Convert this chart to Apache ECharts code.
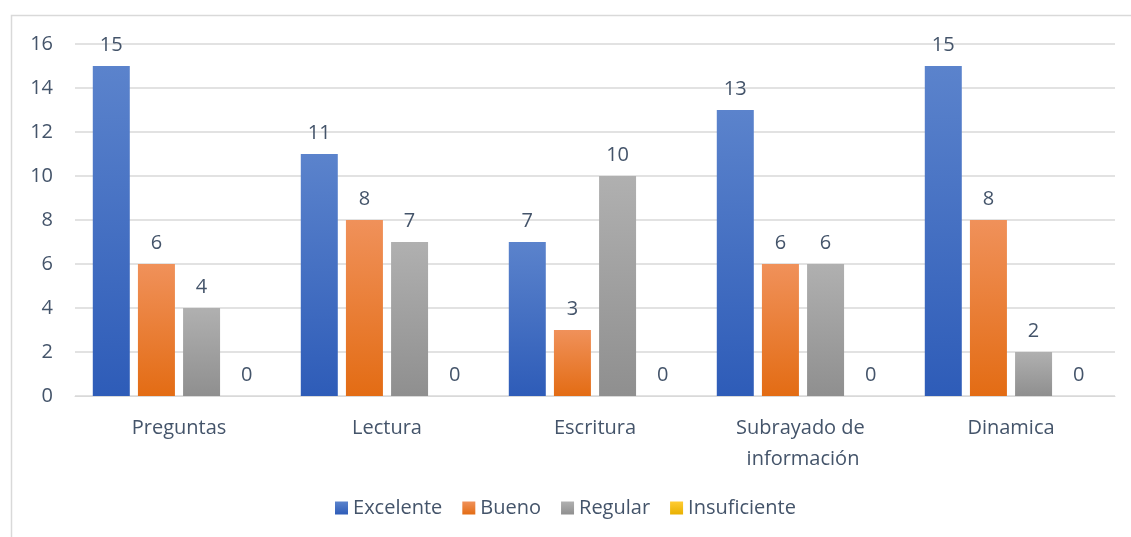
<!DOCTYPE html>
<html>
<head>
<meta charset="utf-8">
<script src="https://cdn.jsdelivr.net/npm/echarts@6/dist/echarts.min.js"></script>
<style>
  html, body { margin: 0; padding: 0; background: #fff; }
  #main { width: 1131px; height: 537px; }
</style>
</head>
<body>
<div id="main"></div>
<script>
const categories = ["Preguntas", "Lectura", "Escritura", "Subrayado de información", "Dinamica"];
const excelente = [15, 11, 7, 13, 15];
const bueno = [6, 8, 3, 6, 8];
const regular = [4, 7, 10, 6, 2];
const insuficiente = [0, 0, 0, 0, 0];
const yTicks = [0, 2, 4, 6, 8, 10, 12, 14, 16];

const textColor = "#44546a";
const font = "'Open Sans', sans-serif";
const fs = 20;

function grad(top, bottom) {
  return new echarts.graphic.LinearGradient(0, 0, 0, 1, [
    { offset: 0, color: top },
    { offset: 1, color: bottom },
  ]);
}

function makeSeries(name, data, top, bottom) {
  return {
    name: name,
    type: "bar",
    data: data,
    barWidth: 37,
    barGap: "22%",
    itemStyle: { color: grad(top, bottom) },
    label: {
      show: true,
      position: "top",
      distance: 11,
      color: textColor,
      fontSize: fs,
      fontFamily: font,
    },
  };
}

let myEchart = echarts.init(document.getElementById("main"));
let option = {
  animation: false,
  graphic: [
    {
      type: "rect",
      shape: { x: 11.5, y: 15.5, width: 1130, height: 530 },
      style: { fill: "none", stroke: "#d9d9d9", lineWidth: 1.5 },
    },
  ],
  grid: {
    left: 75,
    right: 16,
    top: 44,
    bottom: 141,
  },
  legend: {
    bottom: 14,
    left: "center",
    itemWidth: 13,
    itemHeight: 13,
    itemGap: 20,
    icon: "rect",
    textStyle: { color: textColor, fontSize: fs, fontFamily: font },
    data: [
      { name: "Excelente", itemStyle: { color: grad("#5b83cc", "#2e5cb8") } },
      { name: "Bueno", itemStyle: { color: grad("#f0915a", "#e36c14") } },
      { name: "Regular", itemStyle: { color: grad("#b0b0b0", "#8f8f8f") } },
      { name: "Insuficiente", itemStyle: { color: grad("#ffcc33", "#e8b000") } },
    ],
  },
  xAxis: {
    type: "category",
    data: categories,
    axisLine: { lineStyle: { color: "#d9d9d9" } },
    axisTick: { show: false },
    axisLabel: {
      interval: 0,
      color: textColor,
      fontSize: fs,
      fontFamily: font,
      margin: 17,
      width: 170,
      overflow: "break",
      lineHeight: 31,
    },
  },
  yAxis: {
    type: "value",
    min: yTicks[0],
    max: yTicks[yTicks.length - 1],
    interval: 2,
    axisLine: { show: false },
    axisTick: { show: false },
    splitLine: { lineStyle: { color: "#d9d9d9", width: 1.5 } },
    axisLabel: {
      color: textColor,
      fontSize: fs,
      fontFamily: font,
      margin: 22,
    },
  },
  series: [
    makeSeries("Excelente", excelente, "#5b83cc", "#2e5cb8"),
    makeSeries("Bueno", bueno, "#f0915a", "#e36c14"),
    makeSeries("Regular", regular, "#b0b0b0", "#8f8f8f"),
    makeSeries("Insuficiente", insuficiente, "#ffcc33", "#e8b000"),
  ],
};
myEchart.setOption(option, true);
</script>
</body>
</html>
